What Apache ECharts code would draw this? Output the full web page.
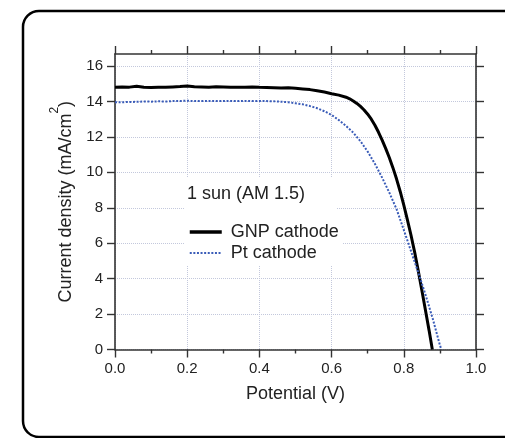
<!DOCTYPE html>
<html>
<head>
<meta charset="utf-8">
<script src="https://cdn.jsdelivr.net/npm/echarts@6/dist/echarts.min.js"></script>
<style>html,body{margin:0;padding:0;background:#fff;}#c{width:505px;height:438px;}</style>
</head>
<body>
<div id="c"></div>
<script>
// ---- data ----
var gnpV = [0, 0.02, 0.04, 0.06, 0.08, 0.10, 0.12, 0.14, 0.16, 0.18, 0.20, 0.22, 0.24, 0.26, 0.28, 0.30,
  0.32, 0.34, 0.36, 0.38, 0.40, 0.42, 0.44, 0.46, 0.48, 0.50, 0.52, 0.54, 0.56, 0.58, 0.60, 0.62, 0.64,
  0.65, 0.66, 0.67, 0.68, 0.69, 0.70, 0.71, 0.72, 0.73, 0.74, 0.75, 0.76, 0.77, 0.78, 0.79, 0.80, 0.81, 0.82,
  0.83, 0.84, 0.85, 0.86, 0.87, 0.879];
var gnpJ = [14.80, 14.82, 14.81, 14.86, 14.80, 14.79, 14.81, 14.80, 14.82, 14.84, 14.87, 14.83, 14.82, 14.81, 14.83, 14.82,
  14.80, 14.81, 14.80, 14.82, 14.80, 14.79, 14.78, 14.76, 14.77, 14.74, 14.71, 14.67, 14.60, 14.53, 14.44, 14.36, 14.24,
  14.15, 14.03, 13.89, 13.72, 13.52, 13.28, 13.00, 12.66, 12.26, 11.82, 11.34, 10.82, 10.25, 9.62, 8.92, 8.15, 7.32, 6.45,
  5.50, 4.45, 3.35, 2.22, 1.08, 0.0];
var ptV = [0, 0.02, 0.04, 0.06, 0.08, 0.10, 0.12, 0.14, 0.16, 0.18, 0.20, 0.22, 0.24, 0.26, 0.28, 0.30,
  0.32, 0.34, 0.36, 0.38, 0.40, 0.42, 0.44, 0.46, 0.48, 0.50, 0.52, 0.54, 0.56, 0.58, 0.60, 0.62, 0.64,
  0.66, 0.68, 0.70, 0.72, 0.74, 0.76, 0.78, 0.80, 0.82, 0.84, 0.86, 0.88, 0.89, 0.90, 0.904];
var ptJ = [13.95, 13.96, 13.97, 13.98, 14.00, 13.99, 14.01, 14.00, 14.02, 14.03, 14.04, 14.02, 14.03, 14.02, 14.03, 14.02,
  14.03, 14.02, 14.03, 14.02, 14.03, 14.02, 14.01, 13.99, 13.96, 13.90, 13.84, 13.74, 13.62, 13.45, 13.24, 12.95, 12.62,
  12.24, 11.76, 11.17, 10.48, 9.70, 8.85, 7.92, 6.75, 5.55, 4.35, 3.10, 1.75, 1.00, 0.25, 0.0];
var xTicks = [0, 0.2, 0.4, 0.6, 0.8, 1.0];
var yTicks = [0, 2, 4, 6, 8, 10, 12, 14, 16];
var seriesNames = ['GNP cathode', 'Pt cathode'];
var annotation = '1 sun (AM 1.5)';
var xTitle = 'Potential (V)';

function zip(a, b) { return a.map(function (v, i) { return [v, b[i]]; }); }

var FONT = "'Liberation Sans', Arial, sans-serif";
var AX = '#333';
var GRIDC = '#c3c8dc';

var chart = echarts.init(document.getElementById('c'), null, {renderer: 'canvas'});
var axisBase = {
  axisLine: {show: true, onZero: false, lineStyle: {color: AX, width: 1.6}},
  axisTick: {show: true, inside: false, length: 8, lineStyle: {color: AX, width: 1.4}}
};
chart.setOption({
  animation: false,
  backgroundColor: '#fff',
  textStyle: {fontFamily: FONT},
  graphic: [
    {type: 'rect', z: -10, silent: true, shape: {x: 23, y: 11, width: 520, height: 426, r: 16},
      style: {fill: 'none', stroke: '#000', lineWidth: 2.5}}
  ],
  title: {
    text: annotation, left: 184, top: 178,
    padding: [7, 31, 15, 3],
    backgroundColor: '#fff',
    textStyle: {fontFamily: FONT, fontSize: 18, fontWeight: 'normal', color: '#222'}
  },
  legend: {
    orient: 'vertical', left: 184, top: 218,
    padding: [5, 4, 4, 4],
    backgroundColor: '#fff',
    itemWidth: 32, itemHeight: 12, itemGap: 3,
    itemStyle: {opacity: 0},
    textStyle: {fontFamily: FONT, fontSize: 18, color: '#222', padding: [0, 0, 0, 4]},
    data: [
      {name: seriesNames[0], lineStyle: {width: 3.5}},
      {name: seriesNames[1], lineStyle: {width: 2}}
    ]
  },
  grid: {left: 115, right: 29, top: 54, bottom: 88.5, containLabel: false},
  xAxis: [
    Object.assign({}, axisBase, {
      type: 'value', position: 'bottom', min: 0, max: 1, interval: 0.2,
      name: xTitle, nameLocation: 'middle', nameGap: 36,
      nameTextStyle: {fontFamily: FONT, fontSize: 18, color: '#222'},
      minorTick: {show: true, splitNumber: 2, length: 4, lineStyle: {color: AX, width: 1.4}},
      axisLabel: {margin: 12, fontFamily: FONT, fontSize: 15, color: '#222',
        formatter: function (v) { return v.toFixed(1); }},
      splitLine: {show: true, lineStyle: {color: GRIDC, type: 'dotted', width: 1}}
    }),
    Object.assign({}, axisBase, {
      type: 'value', position: 'top', min: 0, max: 1, interval: 0.2,
      minorTick: {show: true, splitNumber: 2, length: 4, lineStyle: {color: AX, width: 1.4}},
      axisLabel: {show: false}, splitLine: {show: false}
    })
  ],
  yAxis: [
    Object.assign({}, axisBase, {
      type: 'value', position: 'left', min: 0, max: 16.68, interval: 2,
      axisTick: {show: true, inside: false, length: 8, customValues: yTicks, lineStyle: {color: AX, width: 1.4}},
      axisLabel: {margin: 12, fontFamily: FONT, fontSize: 15, color: '#222', customValues: yTicks},
      name: '{a|Current density (mA/cm}{s|2}{a|)}', nameLocation: 'middle', nameGap: 40, nameRotate: 90,
      nameTextStyle: {fontFamily: FONT, color: '#222',
        rich: {a: {fontFamily: FONT, fontSize: 18, color: '#222', verticalAlign: 'bottom', lineHeight: 26},
               s: {fontFamily: FONT, fontSize: 12, color: '#222', verticalAlign: 'top', lineHeight: 26}}},
      splitLine: {show: true, lineStyle: {color: GRIDC, type: 'dotted', width: 1}}
    }),
    Object.assign({}, axisBase, {
      type: 'value', position: 'right', min: 0, max: 16.68, interval: 2,
      axisTick: {show: true, inside: false, length: 8, customValues: yTicks, lineStyle: {color: AX, width: 1.4}},
      axisLabel: {show: false}, splitLine: {show: false}
    })
  ],
  series: [
    {name: seriesNames[0], type: 'line', data: zip(gnpV, gnpJ), symbol: 'none', showSymbol: false,
      lineStyle: {color: '#000', width: 3}, itemStyle: {color: '#000'}, z: 3},
    {name: seriesNames[1], type: 'line', data: zip(ptV, ptJ), symbol: 'none', showSymbol: false,
      lineStyle: {color: '#3a5cb8', width: 2, type: [2, 1.6]}, itemStyle: {color: '#3a5cb8'}, z: 4}
  ]
});
</script>
</body>
</html>
